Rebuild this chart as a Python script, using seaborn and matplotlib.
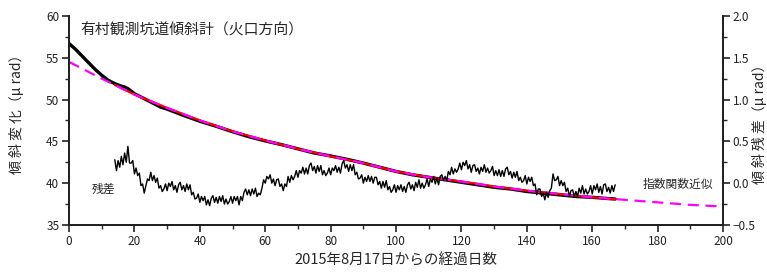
import numpy as np
import pandas as pd
import matplotlib
matplotlib.use("Agg")
import matplotlib.pyplot as plt
from matplotlib.ticker import MultipleLocator
import seaborn as sns

# --------------------------
# Data
# --------------------------
# observed tilt (micro rad), left axis
tilt_days = [0, 2, 4, 6, 8, 10, 12, 14, 16, 17, 18, 20, 22, 24, 26, 28, 30,
             35, 40, 45, 50, 55, 60, 65, 70, 75, 80, 85, 90, 95, 100, 105,
             110, 115, 120, 125, 130, 135, 140, 145, 150, 155, 160, 165, 167]
tilt_vals = [56.7, 56.0, 55.2, 54.4, 53.6, 52.9, 52.3, 51.9, 51.6, 51.5, 51.3,
             50.7, 50.3, 49.9, 49.5, 49.1, 48.85, 48.1, 47.4, 46.8, 46.15,
             45.55, 45.05, 44.6, 44.1, 43.6, 43.25, 42.85, 42.4, 41.9, 41.4,
             41.0, 40.7, 40.4, 40.1, 39.8, 39.5, 39.3, 39.0, 38.8, 38.6, 38.4,
             38.3, 38.15, 38.1]

# exponential approximation (left axis)
fit_days = [0, 10, 20, 30, 40, 50, 60, 70, 80, 90, 100, 110, 120, 130, 140,
            150, 160, 170, 180, 190, 200]
fit_vals = [54.5, 52.5, 50.6, 49.0, 47.5, 46.2, 45.1, 44.1, 43.2, 42.4, 41.4,
            40.7, 40.2, 39.6, 39.1, 38.7, 38.3, 38.0, 37.7, 37.4, 37.2]
fit_data_start = 14
fit_data_end = 167

# residual (micro rad), right axis, every half day from day 14 to 167
resid_start = 14
resid_step = 0.5
resid_vals = [
    0.28, 0.15, 0.27, 0.19, 0.32, 0.22, 0.36, 0.25, 0.44, 0.24,
    0.24, 0.27, 0.11, 0.18, 0.09, 0.12, -0.03, -0.01, -0.12, -0.03,
    0.05, 0.03, 0.13, 0.03, 0.09, 0.01, 0.06, -0.06, -0.03, -0.10,
    -0.07, -0.01, -0.09, 0.00, -0.04, 0.02, -0.08, -0.03, -0.11, -0.02,
    0.01, -0.08, -0.03, -0.10, -0.01, -0.08, -0.02, -0.14, -0.11, -0.19,
    -0.18, -0.13, -0.23, -0.16, -0.21, -0.16, -0.26, -0.20, -0.27, -0.18,
    -0.15, -0.23, -0.17, -0.24, -0.16, -0.22, -0.15, -0.25, -0.19, -0.25,
    -0.22, -0.16, -0.24, -0.16, -0.21, -0.16, -0.26, -0.16, -0.21, -0.11,
    -0.07, -0.14, -0.08, -0.15, -0.07, -0.13, -0.06, -0.16, -0.12, -0.14,
    -0.06, 0.04, 0.00, 0.08, 0.05, 0.10, 0.00, 0.05, -0.03, 0.04,
    0.05, -0.04, -0.01, -0.09, -0.01, -0.04, 0.08, 0.01, 0.09, 0.04,
    0.08, 0.15, 0.07, 0.15, 0.12, 0.19, 0.11, 0.18, 0.11, 0.21,
    0.24, 0.15, 0.20, 0.12, 0.21, 0.14, 0.21, 0.10, 0.15, 0.09,
    0.12, 0.18, 0.10, 0.18, 0.15, 0.21, 0.13, 0.19, 0.12, 0.23,
    0.27, 0.18, 0.22, 0.14, 0.22, 0.15, 0.22, 0.10, 0.13, 0.05,
    0.06, 0.10, 0.00, 0.07, 0.02, 0.09, 0.02, 0.08, 0.00, 0.07,
    0.07, -0.02, 0.02, -0.06, 0.02, -0.05, 0.03, -0.08, -0.04, -0.11,
    -0.08, -0.02, -0.11, -0.03, -0.08, -0.02, -0.10, -0.04, -0.11, -0.02,
    0.01, -0.07, -0.02, -0.09, 0.01, -0.05, 0.04, -0.06, 0.00, -0.06,
    -0.02, 0.05, -0.04, 0.05, 0.01, 0.08, -0.01, 0.06, -0.02, 0.08,
    0.10, 0.03, 0.08, 0.03, 0.14, 0.10, 0.19, 0.11, 0.17, 0.13,
    0.17, 0.24, 0.16, 0.25, 0.21, 0.27, 0.17, 0.22, 0.13, 0.21,
    0.22, 0.14, 0.18, 0.11, 0.19, 0.14, 0.22, 0.13, 0.18, 0.12,
    0.15, 0.20, 0.09, 0.15, 0.09, 0.16, 0.08, 0.15, 0.08, 0.17,
    0.19, 0.10, 0.14, 0.06, 0.13, 0.07, 0.14, 0.03, 0.07, 0.01,
    0.03, 0.09, -0.01, 0.07, 0.02, 0.07, -0.03, -0.01, -0.14, -0.07,
    -0.07, -0.16, -0.12, -0.20, -0.11, -0.17, -0.09, -0.06, 0.11, 0.03,
    0.04, 0.08, -0.03, 0.03, -0.03, 0.01, -0.10, -0.06, -0.16, -0.09,
    -0.08, -0.16, -0.10, -0.16, -0.06, -0.12, -0.03, -0.13, -0.07, -0.13,
    -0.10, -0.03, -0.13, -0.03, -0.08, -0.01, -0.11, -0.04, -0.13, -0.02,
    -0.01, -0.10, -0.05, -0.12, -0.03, -0.10, -0.02,
]

title_text = "有村観測坑道傾斜計（火口方向）"
xlabel_text = "2015年8月17日からの経過日数"
ylabel_left = "傾 斜 変 化（μ rad）"
ylabel_right = "傾 斜 残 差（μ rad）"

# --------------------------
# Frames
# --------------------------
tilt_df = pd.DataFrame({"day": tilt_days, "tilt": tilt_vals})
fit_df = pd.DataFrame({"day": fit_days, "fit": fit_vals})
fit_in = fit_df[(fit_df.day >= fit_data_start - 10) & (fit_df.day <= fit_data_end + 10)].copy()
fit_in_days = np.clip(fit_in.day.values, fit_data_start, fit_data_end)
fit_in_vals = np.interp(fit_in_days, fit_df.day, fit_df.fit)
fit_in = pd.DataFrame({"day": fit_in_days, "fit": fit_in_vals})
resid_df = pd.DataFrame({
    "day": resid_start + resid_step * np.arange(len(resid_vals)),
    "resid": resid_vals,
})

# --------------------------
# Plot
# --------------------------
sns.set_style("ticks")
plt.rcParams["font.family"] = ["Noto Sans CJK JP", "DejaVu Sans"]

fig = plt.figure(figsize=(7.67, 2.77), dpi=100)
ax = fig.add_axes([0.090, 0.188, 0.8527, 0.7545])
ax2 = ax.twinx()

sns.lineplot(data=tilt_df, x="day", y="tilt", ax=ax, color="black",
             lw=2.4, estimator=None, sort=False, zorder=2)
sns.lineplot(data=fit_in, x="day", y="fit", ax=ax, color="red",
             lw=1.6, estimator=None, sort=False, zorder=3)
ax.plot(fit_df.day, fit_df.fit, color="#ff00ff", lw=1.6, dashes=(5, 3), zorder=4)
sns.lineplot(data=resid_df, x="day", y="resid", ax=ax2, color="black",
             lw=1.0, estimator=None, sort=False)

ax.set_xlim(0, 200)
ax.set_ylim(35, 60)
ax2.set_ylim(-0.5, 2.0)

ax.xaxis.set_major_locator(MultipleLocator(20))
ax.xaxis.set_minor_locator(MultipleLocator(10))
ax.yaxis.set_major_locator(MultipleLocator(5))
ax.yaxis.set_minor_locator(MultipleLocator(2.5))
ax2.yaxis.set_major_locator(MultipleLocator(0.5))
ax2.yaxis.set_minor_locator(MultipleLocator(0.25))
ax2.yaxis.set_major_formatter(plt.FuncFormatter(lambda v, p: f"{v:.1f}".replace("-", "−")))

for a in (ax, ax2):
    a.spines["top"].set_visible(False)
    for s in a.spines.values():
        s.set_linewidth(1.4)
        s.set_color("#222222")
    a.tick_params(which="major", length=5, width=1.2, labelsize=8.5, colors="#222222", pad=2)
    a.tick_params(which="minor", length=3, width=1.0)

ax.set_xlabel(xlabel_text, fontsize=10.5, labelpad=4)
ax.set_ylabel("")
ax2.set_ylabel("")
fig.text(0.022, 0.60, ylabel_left, fontsize=10, rotation=90,
         ha="center", va="center")
fig.text(0.990, 0.563, ylabel_right, fontsize=10, rotation=90,
         ha="center", va="center")

ax.text(0.018, 0.965, title_text, transform=ax.transAxes, fontsize=10.7,
        ha="left", va="top")
ax.text(10.5, 39.3, "残差", fontsize=8.5, ha="center", va="center")
ax.text(197, 39.8, "指数関数近似", fontsize=8.5, ha="right", va="center")

fig.savefig("out.png", dpi=100)
